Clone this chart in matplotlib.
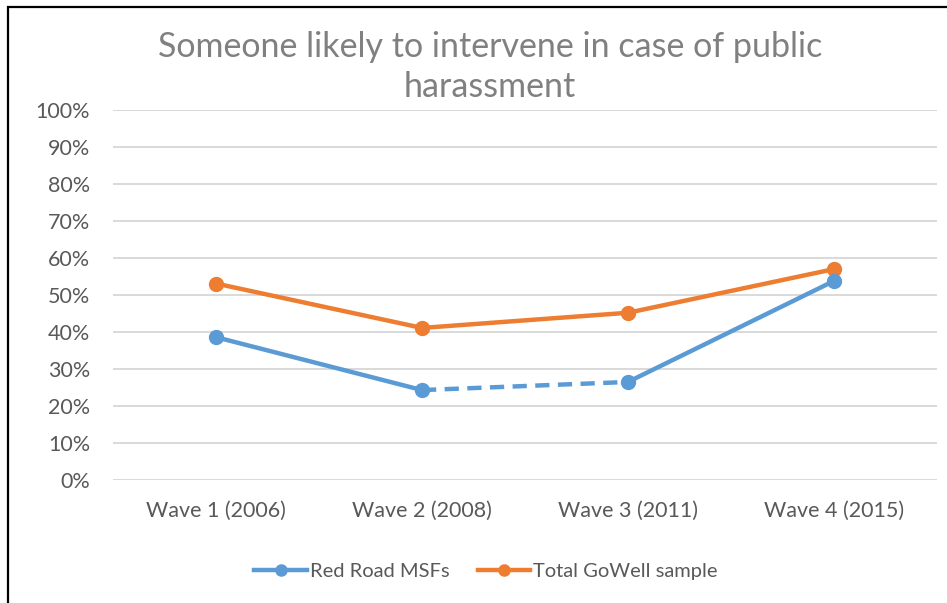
import numpy as np
import matplotlib
matplotlib.use('Agg')
import matplotlib.pyplot as plt
from matplotlib.patches import Rectangle
from matplotlib.ticker import PercentFormatter

# Chart data
waves = ['Wave 1 (2006)', 'Wave 2 (2008)', 'Wave 3 (2011)', 'Wave 4 (2015)']
red_road = [0.386, 0.243, 0.265, 0.538]
gowell_total = [0.531, 0.411, 0.452, 0.570]
yticks = np.arange(0, 1.01, 0.1)

blue = '#5b9bd5'
orange = '#ed7d31'
gray = '#595959'

plt.rcParams['font.family'] = ['Lato', 'DejaVu Sans']

fig = plt.figure(figsize=(9.47, 6.03), dpi=100)
ax = fig.add_axes([113/947, 1-480/603, 824/947, 370/603])

x = np.arange(len(waves))

# blue series: solid, dashed gap between wave 2 and wave 3, solid again
ax.plot(x[:2], red_road[:2], color=blue, lw=3.2, solid_capstyle='round', zorder=3)
ax.plot(x[1:3], red_road[1:3], color=blue, lw=3.2, ls=(0, (3.2, 1.9)), zorder=3)
ax.plot(x[2:], red_road[2:], color=blue, lw=3.2, solid_capstyle='round', zorder=3)
ax.plot(x, red_road, ls='none', marker='o', ms=10, color=blue, zorder=4)

ax.plot(x, gowell_total, color=orange, lw=3.2, marker='o', ms=10,
        solid_capstyle='round', zorder=3)

ax.set_xlim(-0.5, len(waves) - 0.5)
ax.set_ylim(0, 1)
ax.set_yticks(yticks)
ax.yaxis.set_major_formatter(PercentFormatter(1.0, decimals=0))
ax.set_xticks(x)
ax.set_xticklabels(waves)
ax.tick_params(axis='both', length=0, colors=gray, labelsize=15.5)
ax.tick_params(axis='y', pad=16.5)
ax.tick_params(axis='x', pad=15)
ax.grid(axis='y', color='#d9d9d9', lw=1.4)
ax.set_axisbelow(True)
for s in ax.spines.values():
    s.set_visible(False)

fig.text(490/947, 1-67/603, 'Someone likely to intervene in case of public\nharassment',
         ha='center', va='center', fontsize=24.5, color='#808080', linespacing=1.32)

h1, = ax.plot([], [], color=blue, lw=3.2, marker='o', ms=8)
h2, = ax.plot([], [], color=orange, lw=3.2, marker='o', ms=8)
fig.legend([h1, h2], ['Red Road MSFs', 'Total GoWell sample'], loc='center',
           bbox_to_anchor=(486/947, 1-571/603), ncol=2, frameon=False,
           fontsize=14.5, labelcolor=gray, handlelength=2.6, handletextpad=0.15,
           columnspacing=1.4)

# outer frame (runs off the right and bottom edges)
fig.patches.append(Rectangle((8/947, -0.05), 1.0, 1-6.5/603 + 0.05,
                             transform=fig.transFigure, fill=False,
                             ec='black', lw=1.6))

fig.savefig('out.png', dpi=100)
